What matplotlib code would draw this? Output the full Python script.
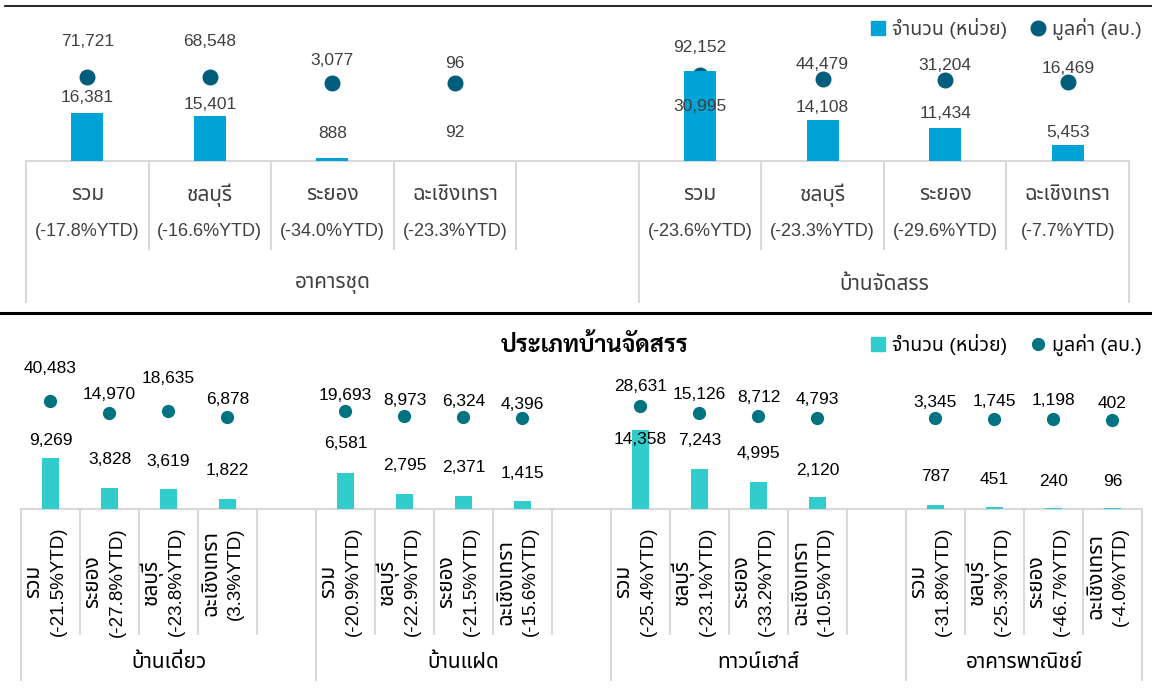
import matplotlib
matplotlib.use("Agg")
import matplotlib.pyplot as plt
from matplotlib import font_manager as fm
from matplotlib import transforms
from matplotlib.lines import Line2D

# ---- data ----
top_groups = ["อาคารชุด", "บ้านจัดสรร"]
top_cats = ["รวม", "ชลบุรี", "ระยอง", "ฉะเชิงเทรา"]
condo_units = [16381, 15401, 888, 92]
condo_value = [71721, 68548, 3077, 96]
condo_ytd = ["-17.8%", "-16.6%", "-34.0%", "-23.3%"]
estate_units = [30995, 14108, 11434, 5453]
estate_value = [92152, 44479, 31204, 16469]
estate_ytd = ["-23.6%", "-23.3%", "-29.6%", "-7.7%"]

bot_groups = ["บ้านเดี่ยว", "บ้านแฝด", "ทาวน์เฮาส์", "อาคารพาณิชย์"]
bot_cats = [["รวม", "ระยอง", "ชลบุรี", "ฉะเชิงเทรา"],
            ["รวม", "ชลบุรี", "ระยอง", "ฉะเชิงเทรา"],
            ["รวม", "ชลบุรี", "ระยอง", "ฉะเชิงเทรา"],
            ["รวม", "ชลบุรี", "ระยอง", "ฉะเชิงเทรา"]]
bot_ytd = [["-21.5%", "-27.8%", "-23.8%", "3.3%"],
           ["-20.9%", "-22.9%", "-21.5%", "-15.6%"],
           ["-25.4%", "-23.1%", "-33.2%", "-10.5%"],
           ["-31.8%", "-25.3%", "-46.7%", "-4.0%"]]
bot_units = [[9269, 3828, 3619, 1822],
             [6581, 2795, 2371, 1415],
             [14358, 7243, 4995, 2120],
             [787, 451, 240, 96]]
bot_value = [[40483, 14970, 18635, 6878],
             [19693, 8973, 6324, 4396],
             [28631, 15126, 8712, 4793],
             [3345, 1745, 1198, 402]]

# label offsets (pixels above the mark), as placed in the original
top_bar_off = [16, 12, 25, 28, -36, 12, 14, 13]
top_dot_off = [36, 36, 22, 20, 28, 15, 15, 13]
bot_bar_off = [18, 28, 28, 28, 29, 28, 28, 28, -9, 29, 28, 27, 28, 27, 26, 27]
bot_dot_off = [32, 18, 33, 17, 15, 15, 15, 13, 20, 18, 18, 18, 16, 18, 19, 16]

# ---- fonts ----
thai_candidates = ["Noto Sans Thai", "Noto Sans Thai UI", "Sarabun", "Prompt", "Kanit", "Bai Jamjuree"]
names = {f.name for f in fm.fontManager.ttflist}
thai = next((c for c in thai_candidates if c in names), "DejaVu Sans")
bold_names = {f.name for f in fm.fontManager.ttflist if f.weight in (700, "bold")}
thai_bold = next((c for c in thai_candidates if c in bold_names), thai)
plt.rcParams["font.family"] = ["Liberation Sans", thai, "DejaVu Sans"]

W, H = 1152, 696
fig = plt.figure(figsize=(W / 100, H / 100), dpi=100)

def fy(py):
    return 1 - py / H

GRID = "#D9D9D9"
TOP_BAR, TOP_DOT = "#00A3D6", "#005E7C"
BOT_BAR, BOT_DOT = "#33CCCC", "#007380"
TH = 15  # Thai-only text size
NUM = 12.5

# separator lines
fig.add_artist(Line2D([5 / W, 1], [fy(6), fy(6)], color="black", lw=1.2))
fig.add_artist(Line2D([0, 1], [fy(313), fy(313)], color="black", lw=2.2))

# ================= top panel =================
ax = fig.add_axes([26 / W, fy(161), (1129 - 26) / W, 141 / H])
ax2 = ax.twinx()
xs = [0, 1, 2, 3, 5, 6, 7, 8]
units = condo_units + estate_units
values = condo_value + estate_value
ytd = condo_ytd + estate_ytd
ax.bar(xs, units, width=0.26, color=TOP_BAR, zorder=2)
ax2.plot(xs, values, "o", color=TOP_DOT, ms=10.5, zorder=3)
ax.set_xlim(-0.5, 8.5)
ax.set_ylim(0, 48300)
ax2.set_ylim(-927000, 751000)
for a in (ax, ax2):
    a.set_xticks([])
    a.set_yticks([])
    for s in a.spines.values():
        s.set_visible(False)
ax.set_zorder(ax2.get_zorder() + 1)
ax.patch.set_visible(False)
ax2.spines["bottom"].set_visible(True)
ax2.spines["bottom"].set_color(GRID)
ax2.spines["bottom"].set_linewidth(1.5)

for i, x in enumerate(xs):
    ax.annotate(f"{units[i]:,}", (x, units[i]), xytext=(0, top_bar_off[i]),
                textcoords="offset pixels", ha="center", va="center",
                fontsize=NUM, color="#404040", zorder=5)
    ax2.annotate(f"{values[i]:,}", (x, values[i]), xytext=(0, top_dot_off[i]),
                 textcoords="offset pixels", ha="center", va="center",
                 fontsize=NUM, color="#404040", zorder=5)

tr = transforms.blended_transform_factory(ax.transData, fig.transFigure)
for b in [-0.5, 4.5, 8.5]:
    ax.add_line(Line2D([b, b], [fy(161), fy(302)], color=GRID, lw=1.5, transform=tr, clip_on=False))
for b in [0.5, 1.5, 2.5, 3.5, 5.5, 6.5, 7.5]:
    ax.add_line(Line2D([b, b], [fy(161), fy(249)], color=GRID, lw=1.5, transform=tr, clip_on=False))
cats = top_cats + top_cats
for i, x in enumerate(xs):
    ax.text(x, fy(195), cats[i], transform=tr, ha="center", va="center", fontsize=TH, color="#404040")
    ax.text(x, fy(231), f"({ytd[i]}YTD)", transform=tr, ha="center", va="center", fontsize=13, color="#404040")
ax.text(2, fy(284), top_groups[0], transform=tr, ha="center", va="center", fontsize=TH, color="#404040")
ax.text(6.5, fy(284), top_groups[1], transform=tr, ha="center", va="center", fontsize=TH, color="#404040")

h1 = Line2D([], [], marker="s", ls="", color=TOP_BAR, ms=10)
h2 = Line2D([], [], marker="o", ls="", color=TOP_DOT, ms=10.5)
fig.legend([h1, h2], ["จำนวน (หน่วย)", "มูลค่า (ลบ.)"], loc="center right",
           bbox_to_anchor=(1151 / W, fy(29)), ncol=2, frameon=False, fontsize=14,
           handlelength=0.8, handletextpad=0.3, columnspacing=1.2, borderpad=0,
           labelcolor="#404040")

# ================= bottom panel =================
bx = fig.add_axes([21 / W, fy(509), (1142 - 21) / W, 149 / H])
bx2 = bx.twinx()
bxs = []
bunits, bvalues, bytd, bcats = [], [], [], []
for g in range(4):
    for k in range(4):
        bxs.append(g * 5 + k)
        bunits.append(bot_units[g][k])
        bvalues.append(bot_value[g][k])
        bytd.append(bot_ytd[g][k])
        bcats.append(bot_cats[g][k])
bx.bar(bxs, bunits, width=0.305, color=BOT_BAR, zorder=2)
bx2.plot(bxs, bvalues, "o", color=BOT_DOT, ms=8.5, zorder=3)
bx.set_xlim(-0.5, 18.5)
bx.set_ylim(0, 27100)
bx2.set_ylim(-188000, 126300)
for a in (bx, bx2):
    a.set_xticks([])
    a.set_yticks([])
    for s in a.spines.values():
        s.set_visible(False)
bx.set_zorder(bx2.get_zorder() + 1)
bx.patch.set_visible(False)
bx2.spines["bottom"].set_visible(True)
bx2.spines["bottom"].set_color(GRID)
bx2.spines["bottom"].set_linewidth(1.5)

for i, x in enumerate(bxs):
    bx.annotate(f"{bunits[i]:,}", (x, bunits[i]), xytext=(0, bot_bar_off[i]),
                textcoords="offset pixels", ha="center", va="center",
                fontsize=NUM, color="black", zorder=5)
    bx2.annotate(f"{bvalues[i]:,}", (x, bvalues[i]), xytext=(0, bot_dot_off[i]),
                 textcoords="offset pixels", ha="center", va="center",
                 fontsize=NUM, color="black", zorder=5)

tr2 = transforms.blended_transform_factory(bx.transData, fig.transFigure)
for b in [-0.5, 4.5, 9.5, 14.5, 18.5]:
    bx.add_line(Line2D([b, b], [fy(509), fy(680)], color=GRID, lw=1.5, transform=tr2, clip_on=False))
for b in [0.5, 1.5, 2.5, 3.5, 5.5, 6.5, 7.5, 8.5, 10.5, 11.5, 12.5, 13.5, 15.5, 16.5, 17.5]:
    bx.add_line(Line2D([b, b], [fy(509), fy(634)], color=GRID, lw=1.5, transform=tr2, clip_on=False))

# rotated two-line labels: YTD line hangs from the top, name centred on it
renderer = fig.canvas.get_renderer()
for i, x in enumerate(bxs):
    t = bx.text(x + 0.14, fy(527), f"({bytd[i]}YTD)", transform=tr2, rotation=90,
                ha="center", va="top", fontsize=13.5, color="black")
    ext = t.get_window_extent(renderer)
    cy = (ext.y0 + ext.y1) / 2 / fig.dpi / (H / 100)
    bx.text(x - 0.29, cy, bcats[i], transform=tr2, rotation=90,
            ha="center", va="center", fontsize=TH, color="black")
for g, cx in enumerate([2, 7, 12, 16.5]):
    bx.text(cx, fy(662), bot_groups[g], transform=tr2, ha="center", va="center", fontsize=TH, color="black")

fig.text(595 / W, fy(346), "ประเภทบ้านจัดสรร", ha="center", va="center",
         fontsize=17, fontweight="bold", family=[thai_bold, "DejaVu Sans"], color="black")
h3 = Line2D([], [], marker="s", ls="", color=BOT_BAR, ms=10)
h4 = Line2D([], [], marker="o", ls="", color=BOT_DOT, ms=8.5)
fig.legend([h3, h4], ["จำนวน (หน่วย)", "มูลค่า (ลบ.)"], loc="center right",
           bbox_to_anchor=(1151 / W, fy(345)), ncol=2, frameon=False, fontsize=14,
           handlelength=0.8, handletextpad=0.3, columnspacing=1.2, borderpad=0,
           labelcolor="black")

fig.savefig("out.png", dpi=100)
